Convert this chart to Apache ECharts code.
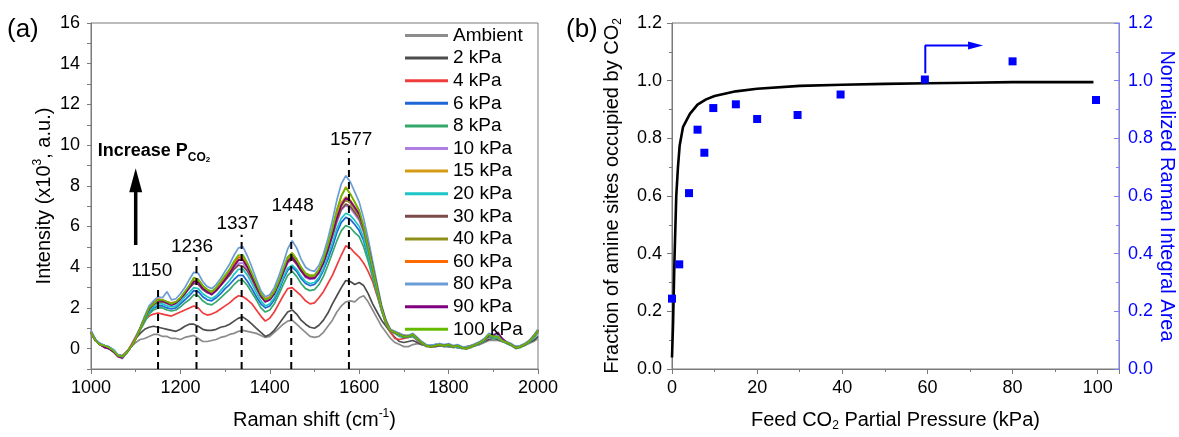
<!DOCTYPE html>
<html><head><meta charset="utf-8">
<script src="https://cdn.jsdelivr.net/npm/echarts@6/dist/echarts.min.js"></script>
<style>html,body{margin:0;padding:0;background:#fff}#c{width:1179px;height:437px}</style>
</head><body><div id="c"></div>
<script>
// ---------- Panel (a): Raman spectra ----------
const shift = [1000,1010,1020,1030,1040,1050,1060,1070,1080,1090,1100,1110,1120,1130,1140,1150,1160,1170,1180,1190,
1200,1210,1220,1230,1240,1250,1260,1270,1280,1290,1300,1310,1320,1330,1340,1350,1360,1370,1380,1390,
1400,1410,1420,1430,1440,1450,1460,1470,1480,1490,1500,1510,1520,1530,1540,1550,1560,1570,1580,1590,
1600,1610,1620,1630,1640,1650,1660,1670,1680,1690,1700,1710,1720,1730,1740,1750,1760,1770,1780,1790,
1800,1810,1820,1830,1840,1850,1860,1870,1880,1890,1900,1910,1920,1930,1940,1950,1960,1970,1980,1990,2000];

const ambient = [0.7,0.4,0.25,0.15,0.05,-0.1,-0.3,-0.35,-0.15,
0.1,0.3,0.45,0.5,0.6,0.7,0.7,0.6,0.6,0.5,
0.5,0.45,0.55,0.6,0.65,0.5,0.35,0.35,0.4,0.45,
0.55,0.6,0.7,0.75,0.85,0.9,0.85,0.8,0.75,0.65,
0.55,0.6,0.8,1.0,1.2,1.35,1.4,1.2,1.0,0.8,
0.6,0.55,0.6,0.8,1.1,1.4,1.8,2.1,2.3,2.35,
2.3,2.5,2.6,2.3,1.9,1.5,1.1,0.8,0.5,0.3,
0.2,0.1,0.1,0.2,0.25,0.2,0.15,0.1,0.1,0.15,0.1,0.1,0.1,0.05,0.05,0.05,0.1,0.15,0.2,0.3,0.4,0.4,0.4,0.35,0.3,0.2,0.1,0.1,0.15,0.25,0.35,0.5];

const kPa2 = [0.8,0.45,0.2,0.15,0.05,-0.1,-0.3,-0.35,-0.15,
0.15,0.5,0.75,0.95,1.05,1.1,1.05,1.0,0.95,0.9,
0.85,0.95,1.1,1.2,1.2,1.1,0.95,0.9,0.9,0.95,
1.05,1.1,1.2,1.35,1.5,1.55,1.4,1.2,1.0,0.8,
0.6,0.7,0.9,1.2,1.5,1.8,1.9,1.7,1.4,1.2,
1.05,1.0,1.15,1.4,1.75,2.2,2.6,3.0,3.35,3.3,
3.15,3.25,3.1,2.7,2.2,1.8,1.4,1.1,0.8,0.55,
0.35,0.3,0.35,0.4,0.3,0.2,0.15,0.1,0.1,0.15,0.15,0.1,0.1,0.05,0.05,0.1,0.15,0.2,0.25,0.35,0.45,0.5,0.45,0.35,0.3,0.2,0.1,0.1,0.2,0.3,0.4,0.6];

const kPa4 = [0.8,0.4,0.2,0.1,0.05,-0.1,-0.35,-0.4,-0.2,
0.2,0.6,1.0,1.4,1.6,1.7,1.75,1.7,1.65,1.6,
1.7,1.8,1.9,2.0,2.1,2.0,1.75,1.65,1.7,1.8,
1.95,2.1,2.25,2.45,2.6,2.55,2.4,2.2,1.9,1.6,
1.35,1.5,1.8,2.2,2.6,2.95,3.0,2.8,2.6,2.35,
2.2,2.25,2.5,2.8,3.2,3.6,4.1,4.6,5.05,4.95,
4.7,4.5,4.2,3.8,3.3,2.6,1.9,1.2,0.8,0.5,
0.45,0.5,0.55,0.6,0.4,0.25,0.15,0.1,0.15,0.2,0.15,0.2,0.1,0.1,0.05,0.05,0.1,0.2,0.3,0.4,0.55,0.6,0.5,0.4,0.3,0.2,0.05,0.1,0.2,0.35,0.55,0.8];

const kPa6 = [0.85,0.4,0.25,0.15,0.1,-0.05,-0.3,-0.4,-0.15,
0.1,0.5,0.95,1.4,1.8,2.0,2.1,2.1,2.0,1.95,
2.0,2.2,2.4,2.6,2.85,2.8,2.55,2.4,2.35,2.5,
2.7,2.95,3.15,3.4,3.6,3.6,3.3,2.95,2.55,2.2,
2.0,2.1,2.4,2.85,3.4,3.85,4.0,3.8,3.45,3.2,
3.1,3.15,3.4,3.85,4.4,5.0,5.7,6.2,6.45,6.35,
6.1,5.8,5.3,4.5,3.7,2.8,1.9,1.25,0.9,0.75,
0.65,0.55,0.6,0.65,0.45,0.3,0.15,0.15,0.2,0.2,0.15,0.15,0.1,0.1,0.05,0.05,0.1,0.15,0.25,0.4,0.6,0.55,0.55,0.4,0.25,0.15,0.05,0.1,0.2,0.3,0.55,0.85];

const kPa8 = [0.8,0.45,0.2,0.1,0.0,-0.15,-0.35,-0.45,-0.2,
0.1,0.5,0.9,1.3,1.7,1.9,2.0,2.0,1.9,1.85,
1.9,2.05,2.25,2.4,2.65,2.6,2.35,2.2,2.15,2.3,
2.5,2.7,2.9,3.15,3.35,3.35,3.1,2.75,2.4,2.0,
1.8,1.9,2.2,2.65,3.15,3.6,3.8,3.55,3.2,2.95,
2.85,2.9,3.15,3.55,4.1,4.7,5.3,5.8,6.05,5.95,
5.7,5.5,5.0,4.3,3.5,2.7,1.85,1.2,0.85,0.75,
0.6,0.55,0.55,0.6,0.45,0.25,0.1,0.1,0.15,0.2,0.1,0.15,0.05,0.1,0.0,0.0,0.05,0.15,0.25,0.4,0.6,0.5,0.5,0.35,0.25,0.15,0.0,0.05,0.15,0.3,0.5,0.8];

const kPa10 = [0.75,0.4,0.2,0.15,0.05,-0.1,-0.3,-0.4,-0.2,
0.1,0.5,1.0,1.5,1.95,2.15,2.3,2.3,2.2,2.15,
2.2,2.4,2.7,2.95,3.25,3.2,2.95,2.75,2.65,2.85,
3.1,3.35,3.65,3.95,4.2,4.2,3.9,3.45,3.0,2.55,
2.3,2.4,2.7,3.15,3.7,4.2,4.4,4.15,3.8,3.5,
3.4,3.45,3.7,4.2,4.8,5.5,6.2,6.8,7.05,6.9,
6.6,6.3,5.7,4.8,3.85,2.9,1.95,1.3,0.9,0.8,
0.7,0.6,0.6,0.7,0.5,0.3,0.15,0.15,0.2,0.2,0.15,0.2,0.1,0.15,0.05,0.05,0.1,0.2,0.3,0.45,0.65,0.6,0.55,0.4,0.3,0.2,0.05,0.1,0.2,0.35,0.6,0.85];

const kPa15 = [0.8,0.4,0.25,0.1,0.05,-0.1,-0.35,-0.4,-0.15,
0.1,0.5,1.0,1.5,2.0,2.2,2.4,2.35,2.25,2.2,
2.3,2.5,2.75,3.05,3.35,3.3,3.0,2.85,2.75,2.95,
3.2,3.5,3.8,4.1,4.35,4.35,4.0,3.55,3.1,2.65,
2.4,2.5,2.8,3.25,3.8,4.4,4.6,4.3,3.9,3.65,
3.55,3.55,3.85,4.35,5.0,5.75,6.6,7.2,7.45,7.3,
6.95,6.6,5.9,5.0,4.0,3.0,2.0,1.3,0.9,0.8,
0.7,0.6,0.65,0.7,0.5,0.3,0.15,0.1,0.15,0.25,0.15,0.2,0.1,0.15,0.05,0.05,0.1,0.2,0.3,0.45,0.7,0.6,0.6,0.4,0.3,0.2,0.05,0.1,0.2,0.35,0.6,0.9];

const kPa20 = [0.85,0.45,0.25,0.15,0.05,-0.05,-0.3,-0.45,-0.2,
0.1,0.5,1.0,1.45,1.85,2.05,2.2,2.2,2.1,2.05,
2.1,2.3,2.55,2.75,3.0,2.95,2.7,2.55,2.45,2.6,
2.85,3.1,3.35,3.65,3.9,3.9,3.6,3.2,2.75,2.35,
2.1,2.2,2.5,2.95,3.5,3.95,4.1,3.9,3.55,3.3,
3.2,3.25,3.5,3.95,4.55,5.2,5.9,6.4,6.65,6.55,
6.3,6.0,5.45,4.6,3.75,2.85,1.95,1.3,0.9,0.8,
0.65,0.6,0.6,0.65,0.45,0.3,0.15,0.15,0.2,0.2,0.15,0.2,0.1,0.1,0.05,0.05,0.1,0.2,0.3,0.4,0.65,0.6,0.55,0.4,0.3,0.2,0.05,0.1,0.2,0.3,0.55,0.85];

const kPa30 = [0.8,0.4,0.2,0.1,0.0,-0.15,-0.35,-0.4,-0.2,
0.1,0.5,1.0,1.5,1.95,2.15,2.3,2.3,2.25,2.15,
2.25,2.45,2.7,3.0,3.2,3.15,2.9,2.75,2.7,2.85,
3.1,3.35,3.6,3.9,4.1,4.05,3.8,3.4,2.95,2.55,
2.3,2.4,2.7,3.2,3.75,4.25,4.4,4.15,3.8,3.55,
3.45,3.5,3.75,4.25,4.85,5.55,6.3,6.85,7.1,7.0,
6.7,6.4,5.8,4.9,3.9,2.95,2.0,1.3,0.9,0.8,
0.7,0.65,0.6,0.7,0.5,0.3,0.15,0.1,0.15,0.2,0.15,0.2,0.1,0.15,0.05,0.0,0.1,0.2,0.3,0.45,0.7,0.65,0.6,0.4,0.3,0.2,0.05,0.1,0.2,0.35,0.6,0.9];

const kPa40 = [0.8,0.45,0.2,0.15,0.05,-0.1,-0.3,-0.4,-0.15,
0.1,0.5,1.0,1.5,1.95,2.2,2.35,2.35,2.25,2.2,
2.25,2.45,2.75,3.05,3.35,3.3,3.0,2.85,2.75,2.95,
3.2,3.45,3.75,4.1,4.4,4.4,4.05,3.6,3.1,2.65,
2.4,2.5,2.8,3.25,3.8,4.4,4.6,4.3,3.9,3.65,
3.55,3.55,3.85,4.3,4.9,5.6,6.4,7.0,7.3,7.15,
6.85,6.5,5.85,4.95,4.0,3.0,2.0,1.3,0.9,0.8,
0.7,0.6,0.6,0.7,0.5,0.3,0.15,0.1,0.15,0.2,0.15,0.2,0.1,0.15,0.05,0.0,0.1,0.2,0.3,0.45,0.7,0.6,0.6,0.4,0.3,0.2,0.05,0.1,0.2,0.35,0.6,0.9];

const kPa60 = [0.85,0.4,0.2,0.1,0.05,-0.1,-0.35,-0.45,-0.15,
0.1,0.5,1.0,1.5,2.0,2.25,2.45,2.4,2.3,2.25,
2.3,2.5,2.8,3.1,3.45,3.4,3.1,2.9,2.8,3.0,
3.25,3.55,3.85,4.2,4.5,4.5,4.15,3.65,3.15,2.7,
2.45,2.55,2.85,3.3,3.9,4.5,4.7,4.4,4.0,3.7,
3.6,3.6,3.9,4.4,5.1,5.9,6.8,7.5,7.95,7.6,
7.2,6.75,6.0,5.05,4.05,3.05,2.05,1.3,0.9,0.8,
0.75,0.65,0.6,0.7,0.5,0.3,0.15,0.1,0.15,0.2,0.15,0.2,0.1,0.15,0.05,0.0,0.1,0.2,0.3,0.45,0.7,0.65,0.6,0.4,0.3,0.2,0.05,0.1,0.2,0.35,0.6,0.9];

const kPa80 = [0.9,0.45,0.25,0.15,0.05,-0.05,-0.3,-0.5,-0.15,
0.1,0.55,1.05,1.6,2.1,2.35,2.55,2.5,2.8,2.4,
2.45,2.7,3.0,3.4,3.75,3.7,3.3,3.05,2.95,3.15,
3.45,3.8,4.15,4.6,4.95,5.0,4.55,4.0,3.4,2.85,
2.55,2.65,3.0,3.55,4.2,4.9,5.3,4.95,4.4,4.0,
3.85,3.8,4.1,4.65,5.4,6.3,7.3,8.1,8.5,8.2,
7.7,7.2,6.4,5.4,4.3,3.2,2.15,1.4,0.95,0.85,
0.75,0.65,0.65,0.75,0.55,0.35,0.2,0.15,0.2,0.25,0.2,0.25,0.15,0.2,0.1,0.05,0.15,0.25,0.35,0.5,0.75,0.7,0.65,0.45,0.35,0.25,0.1,0.15,0.25,0.4,0.65,0.95];

const kPa90 = [0.8,0.4,0.2,0.05,0.0,-0.15,-0.4,-0.45,-0.2,
0.1,0.5,1.0,1.5,1.95,2.2,2.35,2.35,2.25,2.15,
2.25,2.45,2.7,3.0,3.3,3.25,2.95,2.8,2.65,2.85,
3.1,3.4,3.7,4.05,4.35,4.35,4.0,3.55,3.05,2.6,
2.3,2.4,2.7,3.2,3.75,4.3,4.5,4.2,3.85,3.55,
3.45,3.45,3.75,4.2,4.85,5.6,6.4,7.05,7.4,7.25,
6.95,6.6,5.95,5.05,4.05,3.05,2.05,1.35,0.9,0.8,
0.7,0.6,0.6,0.7,0.5,0.3,0.15,0.1,0.15,0.2,0.15,0.2,0.1,0.15,0.05,0.0,0.1,0.2,0.3,0.45,0.65,0.65,0.8,0.5,0.3,0.2,0.05,0.1,0.2,0.35,0.6,0.9];

const kPa100 = [0.8,0.4,0.2,0.15,0.05,-0.1,-0.35,-0.4,-0.2,
0.1,0.5,1.0,1.5,2.0,2.2,2.4,2.4,2.3,2.2,
2.3,2.5,2.8,3.1,3.5,3.4,3.1,2.9,2.8,3.0,
3.3,3.6,3.9,4.3,4.6,4.6,4.2,3.7,3.2,2.7,
2.4,2.5,2.8,3.3,3.9,4.5,4.7,4.4,4.0,3.7,
3.6,3.6,3.9,4.4,5.1,5.9,6.8,7.5,7.9,7.6,
7.2,6.8,6.0,5.0,4.0,3.0,2.0,1.3,0.9,0.8,
0.7,0.6,0.6,0.7,0.5,0.3,0.15,0.1,0.15,0.2,0.15,0.2,0.1,0.15,0.05,0.0,0.1,0.2,0.3,0.45,0.7,0.6,0.6,0.4,0.3,0.2,0.05,0.1,0.2,0.35,0.6,0.9];

const spectraNames = ['Ambient','2 kPa','4 kPa','6 kPa','8 kPa','10 kPa','15 kPa','20 kPa','30 kPa','40 kPa','60 kPa','80 kPa','90 kPa','100 kPa'];
const spectraColors = ['#8c8c8c','#4d4d4d','#f03c3c','#1f66d6','#33a86a','#b07ee0','#d39c12','#1cc6c6','#7d4a4a','#8f8f1c','#ff6a00','#6a9cd6','#80007f','#66bb00'];
const spectraValues = [ambient,kPa2,kPa4,kPa6,kPa8,kPa10,kPa15,kPa20,kPa30,kPa40,kPa60,kPa80,kPa90,kPa100];

const peakShift = [1150,1236,1337,1448,1577];
const peakLineTop = [3.1,4.5,5.6,6.35,9.7];
const peakLabelX = [1136,1226,1328,1451,1582];
const peakLabelY = [3.85,5.0,6.15,7.0,10.25];

const arrowShift = [1100];
const arrowFrom = [5.09];
const arrowShaftTo = [8.1];
const arrowHeadAt = [8.27];
const increaseTextPos = [1014, 9.73];

// ---------- Panel (b): CO2 coverage ----------
const pressureFit = [0,0.25,0.6,1.0,1.4,1.8,2.6,4.2,6.0,8.0,10,15,20,30,40,50,60,70,80,90,99];
const fractionFit = [0.04,0.16,0.39,0.6,0.7,0.775,0.84,0.885,0.917,0.935,0.947,0.963,0.972,0.982,0.986,0.989,0.991,0.993,0.995,0.995,0.995];
const pressureRaman = [0,1.7,4,6,7.6,9.7,15,20,29.5,39.6,59.4,80,99.6];
const ramanArea = [0.244,0.363,0.61,0.83,0.75,0.905,0.918,0.867,0.881,0.952,1.004,1.067,0.933];
const blueArrowX = [59.5,59.5,70.2];
const blueArrowY = [1.026,1.122,1.122];
const blueArrowHead = [71.3,1.122];

const FONT = '"Liberation Sans", Arial, sans-serif';
const GRAY = '#7a7a7a';
const BLUE = '#0000ff';
const TXT = '#000';
const CLEAR = 'rgba(0,0,0,0)';

const chart = echarts.init(document.getElementById('c'));

const spectraSeries = spectraValues.map((vals,k)=>({
  name: spectraNames[k], type:'line', xAxisIndex:0, yAxisIndex:0, symbol:'none', silent:true,
  data: shift.map((x,i)=>[x, vals[i]]),
  lineStyle:{width:1.7, color:spectraColors[k]}, itemStyle:{color:spectraColors[k]}, z:2
}));

const dashSeries = peakShift.map((x,i)=>({
  type:'line', xAxisIndex:0, yAxisIndex:0, symbol:'none', silent:true,
  data:[[x,-1],[x,peakLineTop[i]]],
  lineStyle:{color:'#000', width:2, type:[7,5]}, z:3
}));

const option = {
  animation:false,
  textStyle:{fontFamily:FONT},
  grid:[
    {left:91, right:641, top:23, bottom:60, show:true, borderColor:GRAY, borderWidth:1, backgroundColor:'transparent'},
    {left:672, right:60, top:23, bottom:60, show:true, borderColor:GRAY, borderWidth:1, backgroundColor:'transparent'}
  ],
  legend:{
    data: spectraNames, orient:'vertical', left:400, top:21, itemWidth:43, itemHeight:3, itemGap:3.6,
    icon:'rect', selectedMode:false,
    textStyle:{fontSize:19, color:TXT, lineHeight:19, fontFamily:FONT}
  },
  graphic:[
    {type:'text', left:7, top:17, style:{text:'(a)', fontSize:26, fill:TXT, fontFamily:FONT}},
    {type:'text', left:566, top:17, style:{text:'(b)', fontSize:26, fill:TXT, fontFamily:FONT}}
  ],
  xAxis:[
    {gridIndex:0, type:'value', min:1000, max:2000, interval:200,
     axisLine:{onZero:false, lineStyle:{color:GRAY}},
     axisTick:{length:5, lineStyle:{color:GRAY}},
     minorTick:{show:true, splitNumber:2, length:3, lineStyle:{color:GRAY}},
     splitLine:{show:false},
     axisLabel:{fontSize:18, color:TXT, margin:10, formatter:v=>String(v)},
     name:'Raman shift (cm{sup|-1})', nameLocation:'middle', nameGap:39,
     nameTextStyle:{fontSize:20, color:TXT, lineHeight:24, rich:{sup:{fontSize:12, lineHeight:12, verticalAlign:'top', color:TXT}}}
    },
    {gridIndex:1, type:'value', min:0, max:105, interval:20,
     axisLine:{onZero:false, lineStyle:{color:GRAY}},
     axisTick:{length:5, lineStyle:{color:GRAY}},
     minorTick:{show:true, splitNumber:2, length:3, lineStyle:{color:GRAY}},
     splitLine:{show:false},
     axisLabel:{fontSize:18, color:TXT, margin:10, showMaxLabel:false, formatter:v=>String(v)},
     name:'Feed CO{sub|2} Partial Pressure (kPa)', nameLocation:'middle', nameGap:39,
     nameTextStyle:{fontSize:20, color:TXT, lineHeight:24, rich:{sub:{fontSize:12, lineHeight:12, verticalAlign:'bottom', color:TXT}}}
    }
  ],
  yAxis:[
    {gridIndex:0, type:'value', min:-1, max:16, interval:1,
     axisLine:{show:true, onZero:false, lineStyle:{color:GRAY}},
     axisTick:{show:true, length:4, lineStyle:{color:GRAY}},
     splitLine:{show:false},
     axisLabel:{fontSize:18, color:TXT, margin:11, formatter:v=> (v>=0 && v%2===0) ? String(v) : ''},
     name:'Intensity (x10{sup|3}, a.u.)', nameLocation:'middle', nameGap:25,
     nameTextStyle:{fontSize:20, color:TXT, lineHeight:24, rich:{sup:{fontSize:12, lineHeight:12, verticalAlign:'top', color:TXT}}}
    },
    {gridIndex:1, type:'value', min:0, max:1.2, interval:0.2, position:'left',
     axisLine:{show:true, onZero:false, lineStyle:{color:GRAY}},
     axisTick:{show:true, length:5, lineStyle:{color:GRAY}},
     minorTick:{show:true, splitNumber:2, length:3, lineStyle:{color:GRAY}},
     splitLine:{show:false},
     axisLabel:{fontSize:18, color:TXT, margin:10, formatter:v=>v.toFixed(1)},
     name:'Fraction of amine sites occupied by CO{sub|2}', nameLocation:'middle', nameGap:48,
     nameTextStyle:{fontSize:20, color:TXT, lineHeight:24, rich:{sub:{fontSize:12, lineHeight:12, verticalAlign:'bottom', color:TXT}}}
    },
    {gridIndex:1, type:'value', min:0, max:1.2, interval:0.2, position:'right',
     axisLine:{show:true, onZero:false, lineStyle:{color:'#7f7fff'}},
     axisTick:{show:true, inside:true, length:5, lineStyle:{color:'#7f7fff'}},
     minorTick:{show:true, splitNumber:2, length:3, lineStyle:{color:'#7f7fff'}},
     splitLine:{show:false},
     axisLabel:{fontSize:18, color:BLUE, margin:9, formatter:v=>v.toFixed(1)},
     name:'Normalized Raman Integral Area', nameLocation:'middle', nameGap:38, nameRotate:-90,
     nameTextStyle:{fontSize:20, color:BLUE}
    }
  ],
  series:[
    ...spectraSeries,
    ...dashSeries,
    {type:'scatter', xAxisIndex:0, yAxisIndex:0, silent:true, symbolSize:1, itemStyle:{color:CLEAR, opacity:1},
     data: peakShift.map((p,i)=>[peakLabelX[i], peakLabelY[i], String(p)]),
     label:{show:true, position:'inside', formatter:p=>p.value[2], fontSize:19, color:TXT, opacity:1}, z:5},
    {type:'line', xAxisIndex:0, yAxisIndex:0, symbol:'none', silent:true,
     data:[[arrowShift[0],arrowFrom[0]],[arrowShift[0],arrowShaftTo[0]]],
     lineStyle:{color:'#000', width:3.5}, z:5},
    {type:'scatter', xAxisIndex:0, yAxisIndex:0, silent:true, symbol:'triangle', symbolSize:[13,24],
     data:[[arrowShift[0],arrowHeadAt[0]]], itemStyle:{color:'#000', opacity:1}, z:5},
    {type:'scatter', xAxisIndex:0, yAxisIndex:0, silent:true, symbolSize:1, itemStyle:{color:CLEAR, opacity:1},
     data:[increaseTextPos],
     label:{show:true, position:'right', distance:0, opacity:1, formatter:'{b|Increase P}{s|CO}{t|2}',
       rich:{
         b:{fontSize:18, fontWeight:'bold', lineHeight:26, color:TXT, fontFamily:FONT},
         s:{fontSize:12, fontWeight:'bold', lineHeight:14, verticalAlign:'bottom', color:TXT, fontFamily:FONT},
         t:{fontSize:8, fontWeight:'bold', lineHeight:10, verticalAlign:'bottom', color:TXT, fontFamily:FONT}
       }}, z:5},
    // panel b
    {type:'line', xAxisIndex:1, yAxisIndex:1, symbol:'none', silent:true,
     data: pressureFit.map((p,i)=>[p, fractionFit[i]]),
     lineStyle:{color:'#000', width:2.6}, z:3},
    {type:'scatter', xAxisIndex:1, yAxisIndex:2, symbol:'rect', symbolSize:8, silent:true,
     data: pressureRaman.map((p,i)=>[p, ramanArea[i]]),
     itemStyle:{color:BLUE, opacity:1}, z:4},
    {type:'line', xAxisIndex:1, yAxisIndex:2, symbol:'none', silent:true,
     data: blueArrowX.map((x,i)=>[x, blueArrowY[i]]),
     lineStyle:{color:BLUE, width:2}, z:4},
    {type:'scatter', xAxisIndex:1, yAxisIndex:2, silent:true, symbol:'triangle', symbolSize:[8,15], symbolRotate:-90,
     data:[blueArrowHead], itemStyle:{color:BLUE, opacity:1}, z:4}
  ]
};
chart.setOption(option);
</script>
</body></html>
